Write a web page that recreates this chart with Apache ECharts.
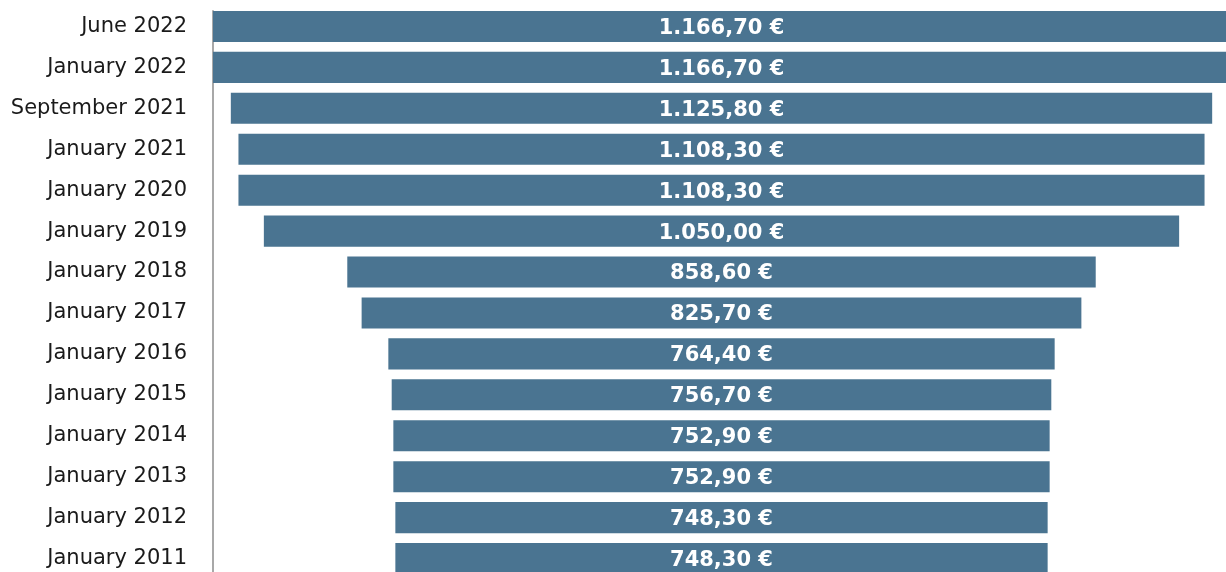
<!DOCTYPE html>
<html>
<head>
<meta charset="utf-8">
<script src="https://cdn.jsdelivr.net/npm/echarts@6/dist/echarts.min.js"></script>
<style>html,body{margin:0;padding:0;background:#fff}#c{width:1226px;height:572px}</style>
</head>
<body>
<div id="c"></div>
<script>
var categories = ["June 2022","January 2022","September 2021","January 2021","January 2020","January 2019","January 2018","January 2017","January 2016","January 2015","January 2014","January 2013","January 2012","January 2011"];
var values = [1166.70,1166.70,1125.80,1108.30,1108.30,1050.00,858.60,825.70,764.40,756.70,752.90,752.90,748.30,748.30];

var maxV = Math.max.apply(null, values);
var offsets = values.map(function(v){ return (maxV - v) / 2; });

function fmt(v){
  var s = v.toFixed(2).split('.');
  var int = s[0].replace(/\B(?=(\d{3})+(?!\d))/g, '.');
  return int + ',' + s[1] + ' €';
}

var chart = echarts.init(document.getElementById('c'), null, {renderer:'canvas'});
chart.setOption({
  animation: false,
  backgroundColor: '#ffffff',
  grid: [
    {left: 213, top: 6, width: 1017, height: 573, containLabel: false, outerBoundsMode: 'none'},
    {left: 213, top: 11, width: 10, height: 565, containLabel: false, outerBoundsMode: 'none'}
  ],
  xAxis: [
    {type: 'value', gridIndex: 0, min: 0, max: maxV, show: false},
    {type: 'value', gridIndex: 1, show: false}
  ],
  yAxis: [
    {
      type: 'category', gridIndex: 0, data: categories, inverse: true,
      axisLine: {show: false}, axisTick: {show: false}, splitLine: {show: false},
      axisLabel: {color: '#1a1a1a', fontFamily: 'DejaVu Sans', fontSize: 21, margin: 26, padding: [3, 0, 0, 0]}
    },
    {
      type: 'value', gridIndex: 1,
      axisLine: {show: true, lineStyle: {color: '#a8a8a8', width: 2}},
      axisTick: {show: false}, axisLabel: {show: false}, splitLine: {show: false}
    }
  ],
  series: [
    {
      type: 'bar', stack: 'a', data: offsets, barCategoryGap: '24%',
      itemStyle: {color: 'rgba(0,0,0,0)'}, silent: true
    },
    {
      type: 'bar', stack: 'a', data: values, barCategoryGap: '24%',
      itemStyle: {color: '#4a7491'},
      label: {
        show: true, position: 'inside', color: '#ffffff', fontWeight: 'bold',
        fontFamily: 'DejaVu Sans', fontSize: 21, offset: [0, 2],
        formatter: function(p){ return fmt(p.value); }
      }
    }
  ]
});
</script>
</body>
</html>
